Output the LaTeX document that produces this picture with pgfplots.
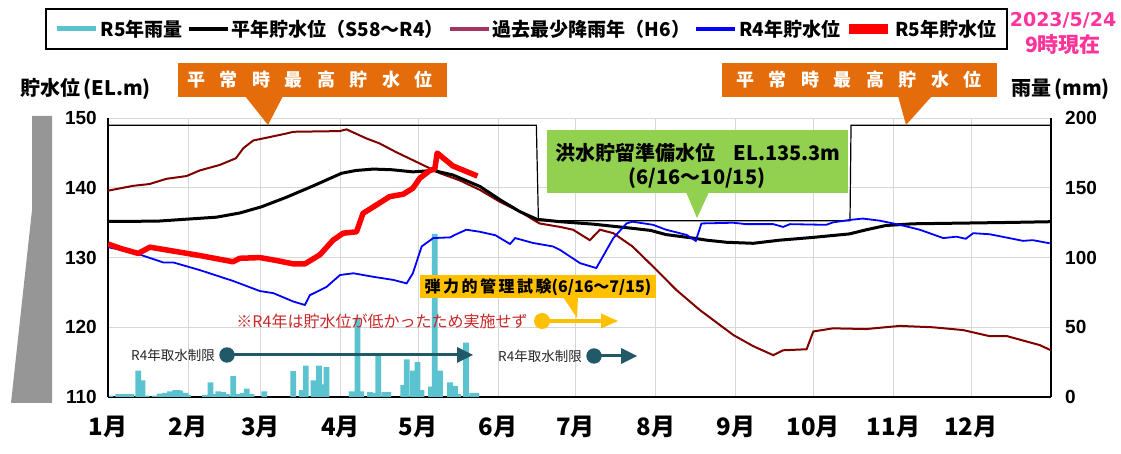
\documentclass[border=0pt]{standalone}
\usepackage{fontspec}
\setmainfont{Noto Sans CJK JP}
\newfontfamily\arial{Liberation Sans}
\newfontfamily\dejavu{DejaVu Sans}
\usepackage{pgfplots}
\pgfplotsset{compat=1.18}
\definecolor{raincol}{RGB}{91,194,208}
\definecolor{hsix}{RGB}{128,0,0}
\definecolor{hsixleg}{RGB}{163,52,102}
\definecolor{orng}{RGB}{228,108,10}
\definecolor{grn}{RGB}{146,208,80}
\definecolor{ylw}{RGB}{255,192,0}
\definecolor{tealc}{RGB}{33,89,104}
\definecolor{pinkd}{RGB}{255,51,153}
\definecolor{damgray}{RGB}{150,150,150}
\definecolor{redtxt}{RGB}{200,40,40}
\definecolor{gridc}{RGB}{215,215,215}
\begin{document}
\begin{tikzpicture}[x=1pt,y=1pt]
\useasboundingbox (0,0) rectangle (1121,454);
% ---------- rainfall (right axis) ----------
\begin{axis}[
  at={(108pt,57pt)}, anchor=south west,
  scale only axis, width=943pt, height=278.8pt,
  xmin=0, xmax=365, ymin=0, ymax=200,
  axis x line*=bottom, axis y line*=right,
  x axis line style={line width=2.6pt,-},
  y axis line style={line width=2.6pt,-},
  xtick={0,31,59,90,120,151,181,212,243,273,304,334},
  xticklabels={1月,2月,3月,4月,5月,6月,7月,8月,9月,10月,11月,12月},
  ytick={0,50,100,150,200},
  major tick length=0pt,
  xmajorgrids, ymajorgrids,
  grid style={gridc, line width=0.8pt},
  xticklabel style={font=\bfseries\fontsize{24}{24}\selectfont, inner sep=0pt, anchor=north, yshift=-19pt},
  yticklabel style={font=\arial\bfseries\fontsize{19}{19}\selectfont, anchor=west, inner sep=0pt, xshift=14pt},
  /pgf/number format/assume math mode=true,
  ybar, bar width=2.2,
]
\addplot[fill=raincol, draw=none] coordinates {
(1,1)(4,2)(5,2)(6,2)(7,2)(8,2)(9,2)(11.7,19)(13.4,12)(15,1)(18,1)(20,2.5)(22,3)(24,4)(26,5)(27,5)(28,4.5)(30,3)(31,1.5)
(37.5,1.5)(39.7,10.5)(41,2)(42.7,4)(44.6,3.5)(46,2)(48.5,15)(50.4,2)(52,3)(53.7,6)(55.6,2)(60.5,4)
(71.7,18.5)(75,5)(76.6,22.5)(79.5,12)(81.7,22.5)(83,9)(84.6,21.5)
(94.3,4)(96.6,56)(98,4)(101.4,3.5)(102.7,3)(104.6,29.5)(107,3.5)(108.5,3.5)
(114.3,8.5)(115.6,27)(118,19)(119.8,25)(121.4,5)(125,7.5)(126.5,117)(128.5,19)
(132.4,10.5)(134.3,8)(135.6,2)(138.6,39)(141,3)(142.5,3)
};
\end{axis}
% ---------- water levels (left axis) ----------
\begin{axis}[
  at={(108pt,57pt)}, anchor=south west,
  scale only axis, width=943pt, height=278.8pt,
  xmin=0, xmax=365, ymin=110, ymax=150,
  axis x line=none, axis y line*=left,
  y axis line style={line width=2.6pt,-},
  ytick={110,120,130,140,150},
  major tick length=0pt,
  yticklabel style={font=\arial\bfseries\fontsize{19}{19}\selectfont, anchor=east, inner sep=0pt, xshift=-11pt},
  /pgf/number format/assume math mode=true,
  legend columns=5,
  legend image code/.code={\draw[#1] (0pt,0pt) -- (39pt,0pt);},
  legend style={at={(axis description cs:-0.0672,1.3953)}, anchor=north west,
    draw=black, line width=2pt, inner xsep=9pt, inner ysep=9pt,
    font=\bfseries\fontsize{19}{19}\selectfont,
    nodes={inner sep=2pt},
    /tikz/every even column/.append style={column sep=2pt}},
]
\addlegendimage{raincol, line width=5pt}
\addlegendentry{R5年雨量}
\addlegendimage{black, line width=4pt}
\addlegendentry{平年貯水位（S58〜R4）}
\addlegendimage{hsixleg, line width=4pt}
\addlegendentry{過去最少降雨年（H6）}
\addlegendimage{blue, line width=4pt}
\addlegendentry{R4年貯水位}
\addlegendimage{red, line width=10pt}
\addlegendentry{R5年貯水位}
% flood-season / normal max level
\addplot[forget plot, black, line width=1.2pt] coordinates {
(0,149)(165.8,149)(166.6,135.3)(287.2,135.3)(287.6,149)(365,149)};
% H6
\addplot[forget plot, hsix, line width=2pt] coordinates {
(0,139.6)(9.8,140.3)(16,140.55)(22.6,141.3)(30.4,141.7)(35.5,142.5)(43.3,143.3)(49.5,144.25)(52.4,145.7)(56.2,146.8)(61.4,147.2)(69,147.8)(71.7,148.05)(89.7,148.15)(92.3,148.4)(100,147.1)(105,146.4)(111.7,145.1)(120.7,143.5)(128.5,142.1)(136,141.1)(144,139.7)(151.7,138.0)(159.4,136.6)(167,134.9)(175,134.4)(180,134.0)(186.5,132.5)(190.4,134.0)(195.6,133.5)(203,131.6)(211,128.7)(220,125.35)(229,122.5)(242,118.9)(249.7,117.3)(257.5,116.0)(261.3,116.7)(270.4,116.85)(273,119.4)(280.6,119.85)(293.5,119.75)(306.5,120.2)(319.4,120.0)(331,119.6)(341,118.75)(347.8,118.75)(360.6,117.45)(365,116.7)};
% average
\addplot[forget plot, black, line width=3pt] coordinates {
(0,135.2)(10,135.2)(20,135.25)(30,135.5)(42,135.8)(51,136.4)(59.5,137.3)(69,138.65)(79.5,140.3)(90.4,142.1)(96,142.5)(102.7,142.7)(110,142.6)(118,142.3)(126,142.5)(133.5,141.85)(144,140.2)(151.7,138.3)(159.4,136.6)(166,135.5)(175,135.15)(187.8,134.8)(203,134.2)(210,133.9)(216,133.3)(226.5,132.8)(231.7,132.5)(239.4,132.2)(249.7,132.05)(260,132.5)(273,132.9)(287,133.4)(293.6,134)(301,134.6)(311.6,134.85)(331,134.95)(350,135.05)(365,135.15)};
% R4
\addplot[forget plot, blue, line width=1.8pt] coordinates {
(0,131.5)(11,130.6)(21.4,129.3)(25.3,129.3)(35.6,128.2)(48.4,126.65)(58.8,125.2)(64,124.9)(71.7,123.7)(76.2,123.2)(78.1,124.6)(84.6,125.8)(89.8,127.5)(95,127.75)(102.6,127.25)(110.4,126.8)(115.6,126.3)(118,127.75)(121.4,131.6)(125.9,132.8)(132.4,132.9)(134.5,133.3)(138.7,134.0)(144,133.7)(150,133.2)(155.6,131.95)(157.6,132.8)(164.5,132.1)(172.2,131.6)(175,131.1)(182.7,129.2)(189,128.5)(195.6,132.8)(200.7,134.9)(203,135.15)(211,134.7)(216,134.0)(224,133.25)(227.5,132.4)(229.7,134.9)(242,135.0)(247,134.8)(257.5,134.8)(261.3,134.4)(264,134.8)(278,134.7)(280.6,135.05)(287,135.4)(292.2,135.6)(298.7,135.3)(306.5,134.7)(314.2,134.0)(323.3,132.8)(328.4,133.0)(332,132.7)(334.9,133.5)(341.3,133.35)(354.2,132.4)(358,132.5)(364.5,132.05)};
% R5
\addplot[forget plot, red, line width=5.5pt, line join=round] coordinates {
(0,131.95)(5,131.3)(11.7,130.6)(16.2,131.5)(22.6,131.1)(35.5,130.3)(48.4,129.4)(51,129.9)(58.8,130.0)(65,129.6)(71.7,129.1)(76.2,129.1)(82,130.4)(87.1,132.5)(91,133.5)(96.2,133.7)(98.7,136.35)(103.9,137.55)(109,138.75)(114.3,139.1)(118,139.95)(120.7,141.4)(124.6,142.5)(126.5,142.7)(127.4,145.0)(128.4,144.7)(133.5,143.15)(143,141.7)};
\end{axis}
% ---------- annotations (image coordinates) ----------
\begin{scope}[yshift=454pt, yscale=-1]
\fill[damgray] (32,116) -- (52,116) -- (52,403) -- (11,403) -- (32,210) -- cycle;
\node[font=\bfseries\fontsize{20}{20}\selectfont, anchor=west, inner sep=0pt] at (20,89) {貯水位\,(EL.m)};
\node[font=\bfseries\fontsize{20}{20}\selectfont, anchor=west, inner sep=0pt] at (1011,89) {雨量\,(mm)};
\node[text=pinkd, font=\dejavu\bfseries\fontsize{19}{19}\selectfont, inner sep=0pt] at (1063,20) {2023/5/24};
\node[text=pinkd, font=\bfseries\fontsize{21}{21}\selectfont, inner sep=0pt] at (1063,45) {9時現在};
% orange callouts
\fill[orng] (178,63) rectangle (447,97);
\fill[orng] (245,96) -- (283,96) -- (268,125) -- cycle;
\node[text=white, font=\bfseries\fontsize{18}{18}\selectfont, inner sep=0pt] at (310,80) {平\hspace{14.5pt}常\hspace{14.5pt}時\hspace{14.5pt}最\hspace{14.5pt}高\hspace{14.5pt}貯\hspace{14.5pt}水\hspace{14.5pt}位};
\fill[orng] (722,63) rectangle (997,97);
\fill[orng] (898,96) -- (932,96) -- (906,125) -- cycle;
\node[text=white, font=\bfseries\fontsize{18}{18}\selectfont, inner sep=0pt] at (859,80) {平\hspace{14.5pt}常\hspace{14.5pt}時\hspace{14.5pt}最\hspace{14.5pt}高\hspace{14.5pt}貯\hspace{14.5pt}水\hspace{14.5pt}位};
% green callout
\fill[grn] (547,130) rectangle (848,193);
\fill[grn] (686,192) -- (709,192) -- (697,218) -- cycle;
\node[font=\bfseries\fontsize{20}{20}\selectfont, inner sep=0pt] at (698,153) {洪水貯留準備水位\hspace{18pt}EL.135.3m};
\node[font=\bfseries\fontsize{20}{20}\selectfont, inner sep=0pt] at (697,178) {(6/16〜10/15)};
% yellow callout
\fill[ylw] (420,275) rectangle (656,298);
\fill[ylw] (563,297) -- (578,297) -- (577,318) -- cycle;
\node[font=\bfseries\fontsize{16}{16}\selectfont, inner sep=0pt] at (538,287) {弾\hspace{2.5pt}力\hspace{2.5pt}的\hspace{2.5pt}管\hspace{2.5pt}理\hspace{2.5pt}試\hspace{2.5pt}験(6/16〜7/15)};
\draw[ylw, line width=4pt] (542,321) -- (603,321);
\fill[ylw] (542,321) circle (8);
\fill[ylw] (601,313.5) -- (618,321) -- (601,328.5) -- cycle;
\node[text=redtxt, font=\fontsize{16}{16}\selectfont, inner sep=0pt] at (382,321) {※R4年は貯水位が低かったため実施せず};
% intake restriction arrows
\node[font=\fontsize{13.5}{13.5}\selectfont, anchor=east, inner sep=0pt, text=black!85] at (215,355) {R4年取水制限};
\draw[tealc, line width=3pt] (227,355) -- (459,355);
\fill[tealc] (227,355) circle (7.7);
\fill[tealc] (457,347) -- (473,355) -- (457,363) -- cycle;
\node[font=\fontsize{13.5}{13.5}\selectfont, anchor=east, inner sep=0pt, text=black!85] at (582,356) {R4年取水制限};
\draw[tealc, line width=3pt] (594,356) -- (623,356);
\fill[tealc] (594,356) circle (7.7);
\fill[tealc] (621,348) -- (637,356) -- (621,364) -- cycle;
\end{scope}
\end{tikzpicture}
\end{document}
